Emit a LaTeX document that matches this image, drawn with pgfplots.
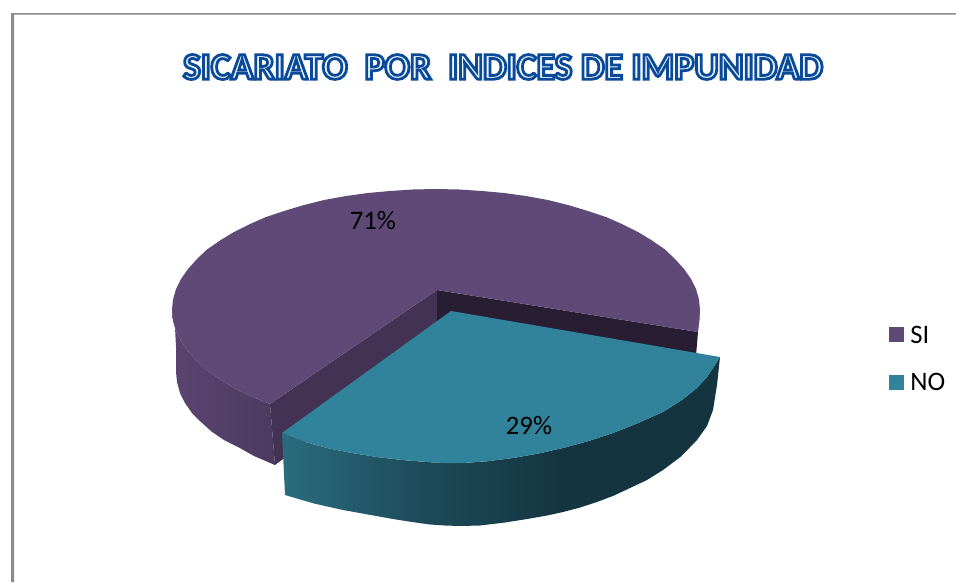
\documentclass[border=0pt]{standalone}
\usepackage{pgfplots}
\pgfplotsset{compat=1.18}
\usepackage{fontspec}
\setmainfont{Carlito}
\definecolor{ptop}{HTML}{5F4A77}
\definecolor{ttop}{HTML}{31839C}
\definecolor{pin}{HTML}{433253}
\definecolor{pback}{HTML}{291D33}
\definecolor{frame}{HTML}{8C8C8C}
\definecolor{tA}{HTML}{2A6C7E}
\definecolor{tB}{HTML}{1C4958}
\definecolor{tC}{HTML}{143540}
\definecolor{pA}{HTML}{5A4570}
\definecolor{pB}{HTML}{4C3A60}
\pgfdeclarehorizontalshading{tealwall}{100bp}{
 color(0bp)=(tA); color(25bp)=(tA); color(42bp)=(tB); color(57bp)=(tC); color(100bp)=(tC)}
\pgfdeclarehorizontalshading{purplewall}{100bp}{
 color(0bp)=(pA); color(25bp)=(pA); color(75bp)=(pB); color(100bp)=(pB)}
\newcommand{\outlined}[3]{\special{pdf:code 2 Tr #1 w #2 RG #3 rg}}
\newcommand{\outlinedoff}{\special{pdf:code 0 Tr 0 0 0 RG 0 0 0 rg}}
\begin{document}
\begin{tikzpicture}
\begin{axis}[
  hide axis, scale only axis, width=717pt, height=436.5pt,
  xmin=0, xmax=956, ymin=0, ymax=582, y dir=reverse,
  clip=false]
% page
\addplot[fill=white, draw=none] coordinates {(0,0)(956,0)(956,582)(0,582)} -- cycle;
% frame
\addplot[fill=frame, draw=none] coordinates {(11,13)(956,13)(956,14.5)(14,14.5)(14,582)(11,582)} -- cycle;
% purple slice: outer wall
\addplot[draw=none, shading=purplewall] coordinates {
 (172,310)(175,327)(176,347)(176,372)(177,382)(180,393)(185,403)(192,413)(201,422)(211.5,431.5)
 (224,440)(238,447)(254,456)(275,465)
 (270,404)(249,395.5)(234,388)(220,379.5)(207,370.5)(197,361)(188,351)(181,341)(176,331)(173,320.5)} -- cycle;
% purple slice: inner walls
\addplot[fill=pin, draw=none] coordinates {(270,404)(437,290)(437,345)(275,465)} -- cycle;
\addplot[fill=pback, draw=none] coordinates {(437,290)(698,332)(696,356)(437,345)} -- cycle;
% purple slice: top
\addplot[fill=ptop, draw=none] coordinates {
 (270,404)(249,395.5)(234,388)(220,379.5)(207,370.5)(197,361)(188,351)(181,341)(176,331)(173,320.5)
 (172,310)(173,299.5)(176,289)(181,279)(188,269)(197,259)(207,249.5)(220,240.5)
 (234,232)(249,224.5)(266,217)(284,211)(304,205)(324,200)(346,196)(368,193)(390,191)(413,189.5)
 (436,189)(459,189.5)(482,191)(504,193)(526,196)(548,200)(568,205)(588,211)
 (606,217)(623,224.5)(638,232)(652,240.5)(665,249.5)(675,259)(684,269)(691,279)(696,289)(699,299.5)
 (700,310)(699.5,320)(698,332)(437,290)} -- cycle;
% teal slice: wall
\addplot[draw=none, shading=tealwall] coordinates {
 (282,433)(285,495)(314,503.5)(343,510)(368,514.5)(393,519)(412,522)(430,524.5)(445,525.5)(460,526)
 (480,525.5)(505,522.5)(530,518.5)(547,515.5)(563,512)(580,507.5)(597,502)(614,495.5)(630,488)
 (647,480)(663,470)(681,456.5)(697,440)(707,426)(713,410)(717,385)(720,357)
 (716.5,362.5)(713,368)(707,377)(697,388)(682,400)(663,412)(638,423.1)(613,433)(588,441.2)(563,448)
 (538,453.6)(513,458)(488,461.2)(463,463)(445,463.1)(427,462)(402,460)(377,457)(352,453)(327,448)(304,441.5)} -- cycle;
% teal slice: top
\addplot[fill=ttop, draw=none] coordinates {
 (451,311)(720,357)(716.5,362.5)(713,368)(707,377)(697,388)(682,400)(663,412)(638,423.1)(613,433)
 (588,441.2)(563,448)(538,453.6)(513,458)(488,461.2)(463,463)(445,463.1)(427,462)(402,460)(377,457)
 (352,453)(327,448)(304,441.5)(282,433)} -- cycle;
% legend swatches
\addplot[fill=ptop, draw=none] coordinates {(889,327)(904,327)(904,342)(889,342)} -- cycle;
\addplot[fill=ttop, draw=none] coordinates {(889,375)(904,375)(904,390)(889,390)} -- cycle;
% labels
\node[font=\fontsize{20}{22}\selectfont] at (axis cs:373,221) {71\%};
\node[font=\fontsize{20}{22}\selectfont] at (axis cs:529,426) {29\%};
\node[font=\fontsize{20}{22}\selectfont, anchor=west, inner sep=0pt] at (axis cs:910,335) {SI};
\node[font=\fontsize{20}{22}\selectfont, anchor=west, inner sep=0pt] at (axis cs:910,382) {NO};
% title
\node[font=\fontsize{28.2}{32}\selectfont\bfseries, inner sep=0pt] at (axis cs:503,67)
  {\outlined{2.1}{0.04 0.29 0.60}{0.93 0.96 1}SICARIATO\ \ POR\ \ INDICES DE IMPUNIDAD\outlinedoff};
\end{axis}
\end{tikzpicture}
\end{document}
